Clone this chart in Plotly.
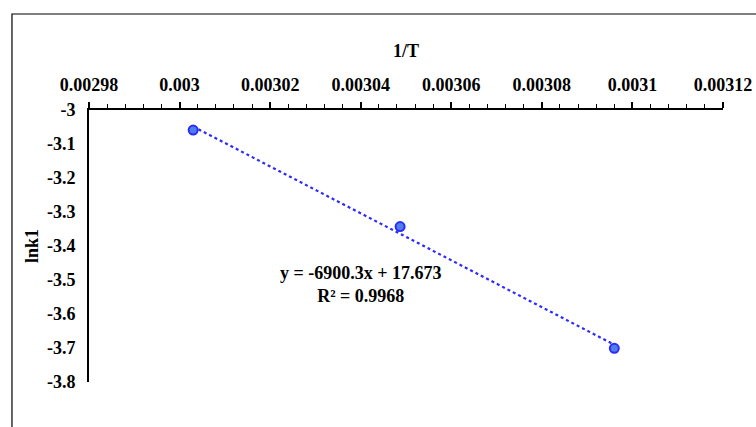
import numpy as np
import plotly.graph_objects as go

# Arrhenius data: inverse temperature vs ln k1
inv_T = [0.003003, 0.0030487, 0.003096]
ln_k1 = [-3.059, -3.343, -3.701]

# Linear trendline coefficients and fit quality
slope = -6900.3
intercept = 17.673
r_squared = 0.9968

x_tickvals = [0.00298, 0.00300, 0.00302, 0.00304, 0.00306, 0.00308, 0.00310, 0.00312]
x_ticktext = ["0.00298", "0.003", "0.00302", "0.00304", "0.00306", "0.00308", "0.0031", "0.00312"]
y_tickvals = [-3.0, -3.1, -3.2, -3.3, -3.4, -3.5, -3.6, -3.7, -3.8]
y_ticktext = ["-3", "-3.1", "-3.2", "-3.3", "-3.4", "-3.5", "-3.6", "-3.7", "-3.8"]

FONT = "Liberation Serif, Times New Roman, serif"
fs = 18

trend_x = np.array([min(inv_T), max(inv_T)])
trend_y = slope * trend_x + intercept

fig = go.Figure()
fig.add_trace(go.Scatter(
    x=trend_x, y=trend_y, mode="lines",
    line=dict(color="#2b2bff", width=2.2, dash="dot"),
    hoverinfo="skip", showlegend=False,
))
fig.add_trace(go.Scatter(
    x=inv_T, y=ln_k1, mode="markers",
    marker=dict(symbol="circle", size=9, color="#4f7fe6",
                line=dict(color="#2b2bff", width=2)),
    showlegend=False,
))

bold = dict(family=FONT, size=fs, color="black", weight="bold")

# trendline equation label
fig.add_annotation(
    x=0.00304, y=-3.513, xref="x", yref="y",
    text=f"y = {slope}x + {intercept}<br>R² = {r_squared}",
    showarrow=False, align="center", font=bold,
)

# outer chart frame
fig.add_shape(type="rect", xref="paper", yref="paper",
              x0=-0.1215, x1=2, y0=-2, y1=1.353,
              line=dict(color="black", width=1.2), fillcolor="rgba(0,0,0,0)",
              layer="below")

fig.update_layout(
    width=756, height=427,
    margin=dict(l=89, r=33, t=110, b=45),
    paper_bgcolor="white", plot_bgcolor="white",
    font=bold,
    xaxis=dict(
        side="top", range=[0.00298, 0.00312],
        tickvals=x_tickvals, ticktext=x_ticktext,
        ticks="outside", ticklen=6, tickwidth=1.5, tickcolor="black",
        minor=dict(dtick=0.000004, ticks="outside", ticklen=4, tickwidth=1.2,
                   tickcolor="black", showgrid=False),
        showline=True, linecolor="black", linewidth=2,
        showgrid=False, zeroline=False,
        tickfont=bold,
        ticklabelstandoff=4,
        title=dict(text="1/T", standoff=12, font=bold),
        automargin=False,
    ),
    yaxis=dict(
        range=[-3.8, -3.0],
        tickvals=y_tickvals, ticktext=y_ticktext,
        ticks="", showline=True, linecolor="black", linewidth=2,
        showgrid=False, zeroline=False,
        tickfont=bold,
        ticklabelstandoff=8,
        title=dict(text="lnk1", standoff=4, font=bold),
        automargin=False,
    ),
)

fig.write_html("out.html")
